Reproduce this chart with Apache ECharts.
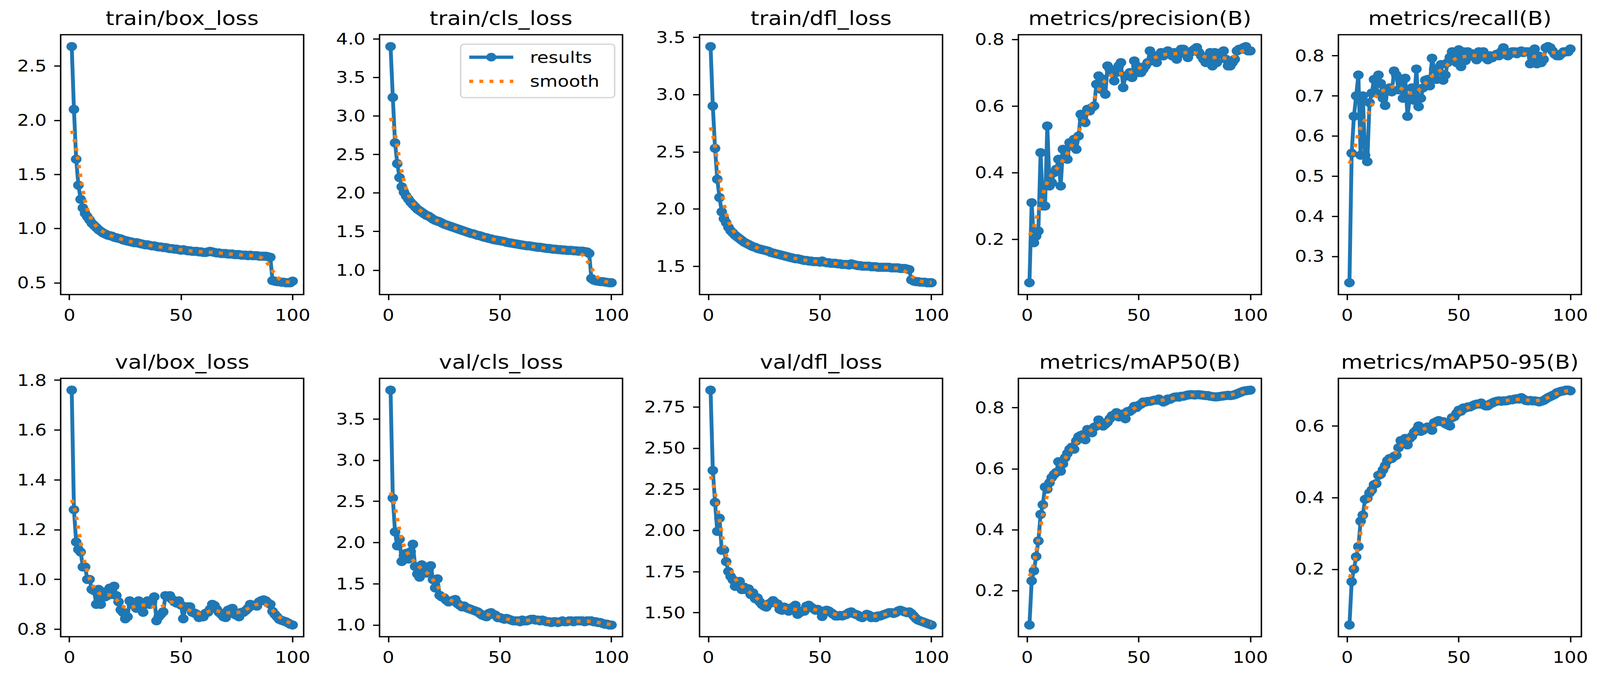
<!DOCTYPE html>
<html>
<head>
<meta charset="utf-8">
<script src="https://cdn.jsdelivr.net/npm/echarts@6/dist/echarts.min.js"></script>
<style>
html,body{margin:0;padding:0;background:#fff;overflow:hidden;width:100%;height:100%;}
#chart{position:absolute;left:0;top:0;width:2400px;height:1200px;transform-origin:0 0;}
</style>
</head>
<body>
<div id="chart"></div>
<script>
const epochs = [1,2,3,4,5,6,7,8,9,10,11,12,13,14,15,16,17,18,19,20,21,22,23,24,25,26,27,28,29,30,31,32,33,34,35,36,37,38,39,40,41,42,43,44,45,46,47,48,49,50,51,52,53,54,55,56,57,58,59,60,61,62,63,64,65,66,67,68,69,70,71,72,73,74,75,76,77,78,79,80,81,82,83,84,85,86,87,88,89,90,91,92,93,94,95,96,97,98,99,100];

const trainBoxLoss = [2.68,2.10,1.64,1.40,1.27,1.19,1.14,1.11,1.08,1.05,
1.03,1.01,0.99,0.975,0.96,0.95,0.94,0.935,0.93,0.92,
0.915,0.91,0.905,0.895,0.89,0.885,0.88,0.875,0.87,0.87,
0.865,0.86,0.855,0.85,0.85,0.845,0.84,0.84,0.835,0.83,
0.83,0.825,0.825,0.82,0.815,0.815,0.81,0.81,0.805,0.80,
0.805,0.80,0.795,0.795,0.79,0.79,0.79,0.785,0.785,0.78,
0.78,0.785,0.79,0.785,0.78,0.775,0.775,0.77,0.77,0.77,
0.765,0.765,0.765,0.76,0.76,0.76,0.755,0.755,0.755,0.75,
0.755,0.75,0.75,0.75,0.745,0.745,0.745,0.745,0.74,0.735,
0.52,0.515,0.51,0.51,0.505,0.505,0.50,0.50,0.50,0.515];

const trainClsLoss = [3.90,3.24,2.65,2.38,2.20,2.08,2.01,1.96,1.92,1.88,
1.85,1.82,1.79,1.77,1.75,1.73,1.71,1.70,1.68,1.66,
1.645,1.635,1.625,1.61,1.595,1.585,1.575,1.565,1.555,1.545,
1.535,1.525,1.515,1.505,1.495,1.485,1.475,1.47,1.46,1.45,
1.445,1.435,1.425,1.42,1.41,1.405,1.395,1.39,1.385,1.38,
1.375,1.37,1.36,1.355,1.35,1.345,1.34,1.335,1.33,1.325,
1.32,1.315,1.315,1.31,1.305,1.30,1.295,1.295,1.29,1.285,
1.28,1.28,1.275,1.27,1.27,1.265,1.265,1.26,1.26,1.255,
1.255,1.255,1.25,1.25,1.245,1.245,1.245,1.24,1.235,1.215,
0.89,0.87,0.86,0.855,0.85,0.85,0.845,0.84,0.835,0.835];

const trainDflLoss = [3.42,2.90,2.53,2.26,2.10,1.975,1.915,1.88,1.84,1.81,
1.79,1.77,1.755,1.74,1.725,1.71,1.70,1.69,1.68,1.67,
1.665,1.655,1.65,1.645,1.64,1.635,1.63,1.62,1.615,1.61,
1.605,1.60,1.595,1.59,1.585,1.58,1.575,1.57,1.565,1.565,
1.56,1.555,1.55,1.55,1.545,1.545,1.54,1.54,1.54,1.535,
1.545,1.535,1.53,1.53,1.525,1.525,1.525,1.52,1.52,1.515,
1.515,1.515,1.51,1.52,1.515,1.51,1.505,1.505,1.50,1.50,
1.50,1.50,1.495,1.495,1.495,1.49,1.49,1.49,1.49,1.49,
1.49,1.485,1.485,1.485,1.485,1.48,1.48,1.48,1.475,1.47,
1.38,1.37,1.365,1.365,1.36,1.36,1.36,1.355,1.355,1.355];

const precisionB = [0.07,0.31,0.19,0.21,0.225,0.46,0.30,0.30,0.54,0.36,
0.37,0.40,0.41,0.44,0.36,0.47,0.45,0.44,0.49,0.48,
0.50,0.47,0.51,0.575,0.56,0.55,0.59,0.585,0.595,0.60,
0.665,0.69,0.65,0.68,0.635,0.72,0.71,0.70,0.675,0.70,
0.72,0.73,0.655,0.69,0.69,0.70,0.685,0.735,0.72,0.70,
0.70,0.71,0.72,0.73,0.765,0.745,0.75,0.73,0.75,0.76,
0.75,0.76,0.765,0.76,0.75,0.76,0.74,0.755,0.77,0.77,
0.76,0.745,0.76,0.765,0.77,0.775,0.76,0.75,0.74,0.73,
0.74,0.76,0.72,0.76,0.73,0.755,0.76,0.765,0.74,0.72,
0.72,0.73,0.74,0.765,0.77,0.77,0.775,0.778,0.765,0.765];

const recallB = [0.234,0.557,0.649,0.70,0.752,0.552,0.70,0.552,0.536,0.683,
0.707,0.741,0.707,0.752,0.731,0.694,0.676,0.715,0.72,0.71,
0.762,0.752,0.715,0.74,0.694,0.744,0.649,0.694,0.72,0.689,
0.767,0.673,0.694,0.72,0.739,0.741,0.725,0.794,0.767,0.741,
0.762,0.778,0.739,0.752,0.783,0.796,0.81,0.799,0.783,0.815,
0.773,0.81,0.788,0.81,0.799,0.805,0.80,0.79,0.81,0.80,
0.81,0.795,0.79,0.80,0.795,0.80,0.804,0.80,0.81,0.82,
0.81,0.80,0.805,0.81,0.81,0.805,0.81,0.812,0.808,0.81,
0.81,0.78,0.794,0.817,0.78,0.799,0.783,0.791,0.82,0.823,
0.82,0.812,0.804,0.80,0.80,0.805,0.81,0.81,0.81,0.817];

const valBoxLoss = [1.76,1.28,1.15,1.12,1.11,1.05,1.05,1.00,1.00,0.96,
0.955,0.90,0.96,0.90,0.95,0.93,0.935,0.965,0.94,0.973,
0.935,0.91,0.878,0.868,0.842,0.85,0.914,0.90,0.90,0.884,
0.914,0.90,0.868,0.90,0.914,0.90,0.91,0.93,0.834,0.85,
0.86,0.87,0.935,0.93,0.935,0.92,0.91,0.905,0.914,0.897,
0.842,0.89,0.89,0.89,0.868,0.865,0.86,0.847,0.85,0.85,
0.864,0.868,0.88,0.90,0.895,0.88,0.868,0.86,0.85,0.847,
0.876,0.88,0.884,0.86,0.855,0.85,0.868,0.868,0.875,0.884,
0.90,0.897,0.895,0.893,0.91,0.915,0.918,0.914,0.905,0.90,
0.872,0.86,0.85,0.84,0.836,0.833,0.83,0.825,0.82,0.817];

const valClsLoss = [3.85,2.54,2.13,1.96,2.04,1.77,1.84,1.87,1.80,1.89,
1.98,1.71,1.62,1.58,1.73,1.66,1.63,1.67,1.72,1.55,
1.45,1.56,1.36,1.34,1.33,1.30,1.28,1.29,1.30,1.31,
1.26,1.24,1.22,1.23,1.21,1.20,1.19,1.18,1.17,1.16,
1.14,1.12,1.11,1.10,1.14,1.15,1.13,1.12,1.09,1.09,
1.08,1.07,1.08,1.07,1.06,1.05,1.05,1.05,1.04,1.06,
1.05,1.05,1.06,1.07,1.07,1.06,1.06,1.05,1.06,1.05,
1.04,1.04,1.03,1.04,1.04,1.03,1.04,1.05,1.04,1.04,
1.05,1.05,1.04,1.05,1.05,1.05,1.05,1.04,1.05,1.05,
1.05,1.04,1.04,1.03,1.03,1.02,1.01,1.01,1.00,1.00];

const valDflLoss = [2.852,2.364,2.17,1.994,2.074,1.879,1.88,1.81,1.75,1.72,
1.70,1.66,1.68,1.69,1.64,1.655,1.64,1.645,1.61,1.62,
1.585,1.59,1.566,1.55,1.54,1.534,1.553,1.56,1.573,1.56,
1.553,1.52,1.515,1.534,1.52,1.509,1.528,1.534,1.545,1.49,
1.50,1.51,1.509,1.54,1.545,1.534,1.525,1.515,1.52,1.51,
1.477,1.51,1.515,1.51,1.50,1.49,1.48,1.48,1.483,1.48,
1.485,1.49,1.50,1.505,1.495,1.49,1.485,1.475,1.47,1.48,
1.49,1.485,1.47,1.475,1.47,1.48,1.48,1.485,1.49,1.495,
1.50,1.50,1.495,1.50,1.51,1.515,1.51,1.505,1.50,1.505,
1.495,1.48,1.465,1.455,1.45,1.445,1.44,1.435,1.43,1.425];

const mAP50B = [0.087,0.232,0.265,0.312,0.363,0.45,0.482,0.54,0.533,0.554,
0.571,0.581,0.588,0.623,0.592,0.616,0.636,0.65,0.664,0.671,
0.664,0.691,0.705,0.709,0.712,0.695,0.729,0.726,0.718,0.736,
0.74,0.76,0.75,0.74,0.746,0.753,0.764,0.774,0.777,0.784,
0.77,0.777,0.78,0.764,0.788,0.788,0.794,0.805,0.801,0.808,
0.812,0.819,0.819,0.821,0.821,0.823,0.825,0.825,0.829,0.823,
0.819,0.822,0.829,0.828,0.832,0.835,0.836,0.835,0.838,0.838,
0.84,0.842,0.843,0.843,0.842,0.843,0.843,0.842,0.841,0.84,
0.84,0.838,0.837,0.836,0.836,0.837,0.838,0.839,0.84,0.841,
0.84,0.841,0.843,0.846,0.849,0.852,0.855,0.856,0.857,0.858];

const mAP5095B = [0.044,0.165,0.20,0.234,0.263,0.334,0.351,0.395,0.398,0.413,
0.421,0.436,0.439,0.462,0.465,0.477,0.489,0.503,0.509,0.509,
0.515,0.518,0.539,0.559,0.556,0.565,0.547,0.565,0.571,0.582,
0.588,0.60,0.585,0.588,0.594,0.597,0.594,0.588,0.609,0.612,
0.615,0.612,0.612,0.606,0.603,0.60,0.623,0.626,0.635,0.644,
0.641,0.65,0.65,0.653,0.653,0.656,0.659,0.661,0.661,0.664,
0.659,0.656,0.656,0.661,0.664,0.667,0.669,0.670,0.669,0.670,
0.670,0.671,0.673,0.673,0.675,0.676,0.675,0.679,0.675,0.671,
0.670,0.671,0.670,0.670,0.669,0.667,0.669,0.671,0.675,0.679,
0.682,0.685,0.688,0.693,0.695,0.697,0.698,0.70,0.70,0.698];

const panelTitles = ['train/box_loss','train/cls_loss','train/dfl_loss','metrics/precision(B)','metrics/recall(B)',
  'val/box_loss','val/cls_loss','val/dfl_loss','metrics/mAP50(B)','metrics/mAP50-95(B)'];
const panelValues = [trainBoxLoss,trainClsLoss,trainDflLoss,precisionB,recallB,valBoxLoss,valClsLoss,valDflLoss,mAP50B,mAP5095B];
const yTickValues = [
  [0.5,1.0,1.5,2.0,2.5],
  [1.0,1.5,2.0,2.5,3.0,3.5,4.0],
  [1.5,2.0,2.5,3.0,3.5],
  [0.2,0.4,0.6,0.8],
  [0.3,0.4,0.5,0.6,0.7,0.8],
  [0.8,1.0,1.2,1.4,1.6,1.8],
  [1.0,1.5,2.0,2.5,3.0,3.5],
  [1.50,1.75,2.00,2.25,2.50,2.75],
  [0.2,0.4,0.6,0.8],
  [0.2,0.4,0.6]
];
const yTickDecimals = [1,1,1,1,1,1,1,2,1,1];
const xTickValues = [0,50,100];
const legendNames = ['results','smooth'];

// same smoothing the original plot applied (gaussian_filter1d, sigma=3, reflect mode)
function gaussianSmooth(y, sigma) {
  const radius = Math.floor(4 * sigma + 0.5);
  const w = [];
  let s = 0;
  for (let k = -radius; k <= radius; k++) { const v = Math.exp(-0.5 * k * k / (sigma * sigma)); w.push(v); s += v; }
  for (let k = 0; k < w.length; k++) w[k] /= s;
  const n = y.length;
  const idx = j => { while (j < 0 || j >= n) { if (j < 0) j = -j - 1; if (j >= n) j = 2 * n - j - 1; } return j; };
  return y.map((_, i) => { let acc = 0; for (let k = -radius; k <= radius; k++) acc += w[k + radius] * y[idx(i + k)]; return acc; });
}

// base drawing space (the plot's native 2400x1200 figure), stretched to the window
const BASE_W = 2400, BASE_H = 1200;
const el = document.getElementById('chart');
const vw = document.documentElement.clientWidth || window.innerWidth || 4165;
const vh = document.documentElement.clientHeight || window.innerHeight || 1764;
el.style.transform = 'scale(' + (vw / BASE_W) + ',' + (vh / BASE_H) + ')';

const FONT = 'DejaVu Sans';
const BLUE = '#1f77b4', ORANGE = '#ff7f0e';
const LW = 5.8;
const DOT = [5.8, 9.4];
const colLeft = [91, 569.3, 1049.3, 1527.6, 2007.6];
const colWidth = 364.5;
const rowTop = [60.5, 659];
const rowHeight = [452.5, 450];
const titleTop = [16, 614.6];

const grids = [], xAxes = [], yAxes = [], series = [], titles = [];
const xMin = epochs[0] - 0.05 * (epochs[epochs.length - 1] - epochs[0]);
const xMax = epochs[epochs.length - 1] + 0.05 * (epochs[epochs.length - 1] - epochs[0]);

panelValues.forEach((vals, i) => {
  const r = Math.floor(i / 5), c = i % 5;
  grids.push({left: colLeft[c], top: rowTop[r], width: colWidth, height: rowHeight[r], show: true,
    borderColor: '#000', borderWidth: 2.2, backgroundColor: 'transparent', containLabel: false, outerBoundsMode: 'none'});
  const lo = Math.min(...vals), hi = Math.max(...vals), pad = 0.05 * (hi - lo);
  xAxes.push({gridIndex: i, type: 'value', min: xMin, max: xMax,
    axisLine: {show: false, onZero: false}, splitLine: {show: false},
    axisTick: {show: true, length: 9.7, lineStyle: {color: '#000', width: 2.2}, customValues: xTickValues},
    axisLabel: {customValues: xTickValues, margin: 22, fontSize: 27.8, color: '#000', fontFamily: FONT}});
  const dec = yTickDecimals[i];
  yAxes.push({gridIndex: i, type: 'value', min: lo - pad, max: hi + pad,
    axisLine: {show: false, onZero: false}, splitLine: {show: false},
    axisTick: {show: true, length: 9.7, lineStyle: {color: '#000', width: 2.2}, customValues: yTickValues[i]},
    axisLabel: {customValues: yTickValues[i], margin: 21, fontSize: 27.8, color: '#000', fontFamily: FONT,
      formatter: v => Number(v).toFixed(dec)}});
  series.push({type: 'line', name: legendNames[0], xAxisIndex: i, yAxisIndex: i,
    data: epochs.map((e, k) => [e, vals[k]]),
    symbol: 'circle', symbolSize: 16, showSymbol: true, showAllSymbol: true,
    lineStyle: {color: BLUE, width: LW, join: 'round'}, itemStyle: {color: BLUE}, z: 2, silent: true});
  const sm = gaussianSmooth(vals, 3);
  series.push({type: 'line', name: legendNames[1], xAxisIndex: i, yAxisIndex: i,
    data: epochs.map((e, k) => [e, sm[k]]),
    symbol: 'none', lineStyle: {color: ORANGE, width: LW, type: DOT, cap: 'butt'}, itemStyle: {color: ORANGE}, z: 3, silent: true});
  titles.push({text: panelTitles[i], left: colLeft[c] + colWidth / 2, top: titleTop[r], textAlign: 'center', padding: 0,
    textStyle: {fontSize: 33.3, fontWeight: 'normal', color: '#000', fontFamily: FONT}});
});

const chart = echarts.init(el, null, {renderer: 'svg', width: BASE_W, height: BASE_H});
chart.setOption({
  animation: false,
  backgroundColor: '#fff',
  title: titles,
  grid: grids,
  xAxis: xAxes,
  yAxis: yAxes,
  series: series,
  legend: {
    show: true, orient: 'vertical', left: 691, top: 77, padding: [8.6, 23, 14.4, 10],
    itemWidth: 66, itemHeight: 19, itemGap: 14, selectedMode: false,
    borderColor: 'rgba(204,204,204,0.8)', borderWidth: 2.2, borderRadius: 5.5, backgroundColor: 'rgba(255,255,255,0.8)',
    textStyle: {fontSize: 27.8, color: '#000', fontFamily: FONT, padding: [0, 0, 0, 20]},
    data: [
      {name: legendNames[0], itemStyle: {color: BLUE}, lineStyle: {color: BLUE, width: LW}},
      {name: legendNames[1], itemStyle: {color: ORANGE, opacity: 0}, lineStyle: {color: ORANGE, width: LW, type: DOT}}
    ]
  }
});
</script>
</body>
</html>
